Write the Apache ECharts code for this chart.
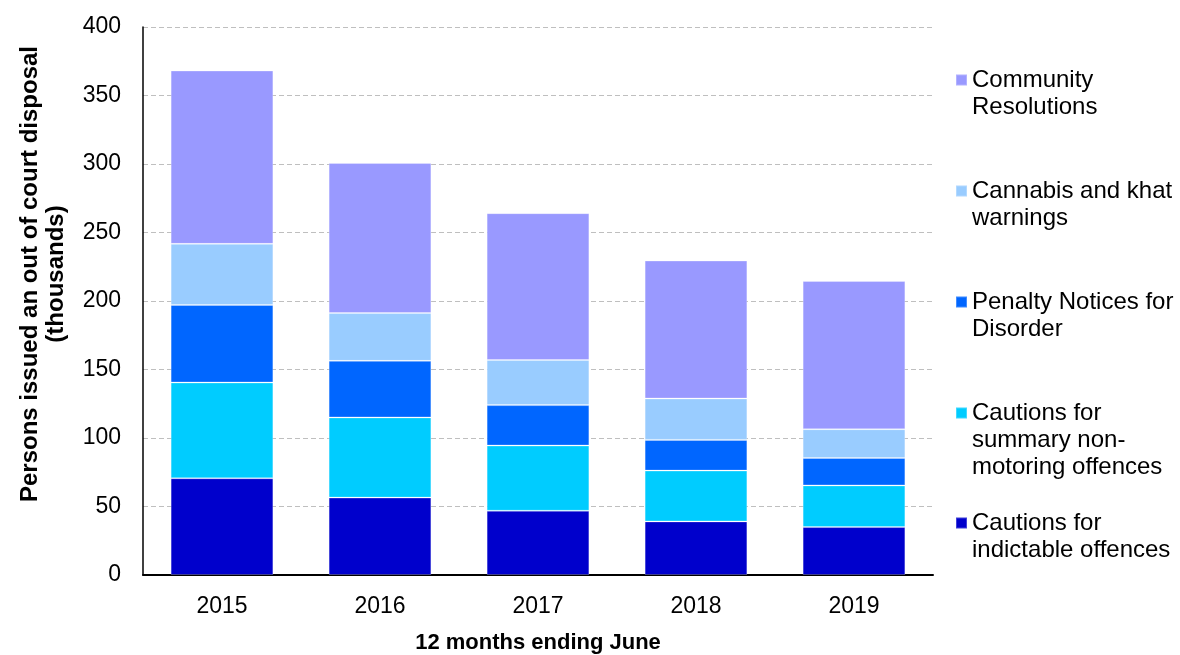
<!DOCTYPE html>
<html>
<head>
<meta charset="utf-8">
<script src="https://cdn.jsdelivr.net/npm/echarts@6/dist/echarts.min.js"></script>
<style>html,body{margin:0;padding:0;background:#fff}#c{width:1180px;height:655px}</style>
</head>
<body>
<div id="c"></div>
<script>
const categories = ['2015', '2016', '2017', '2018', '2019'];
const indictable = [70.6, 56.5, 46.9, 39.1, 35.0];
const summary = [69.9, 58.5, 47.6, 37.1, 30.4];
const pnd = [56.6, 41.3, 29.5, 22.4, 20.0];
const cannabis = [44.6, 34.9, 32.9, 30.2, 21.0];
const community = [126.5, 109.5, 107.2, 100.7, 108.2];
const yTicks = [0, 50, 100, 150, 200, 250, 300, 350, 400];

const seriesDefs = [
  {name: 'Cautions for\nindictable offences', data: indictable, color: '#0000CC', lines: 2, line1: 523},
  {name: 'Cautions for\nsummary non-\nmotoring offences', data: summary, color: '#00CCFF', lines: 3, line1: 413},
  {name: 'Penalty Notices for\nDisorder', data: pnd, color: '#0066FF', lines: 2, line1: 302},
  {name: 'Cannabis and khat\nwarnings', data: cannabis, color: '#99CCFF', lines: 2, line1: 191},
  {name: 'Community\nResolutions', data: community, color: '#9999FF', lines: 2, line1: 80}
];

const LH = 27;
const SQ = 11;
const font = 'Liberation Sans, Arial, sans-serif';

function legendFor(s) {
  // icon box tall enough that the square sits beside the first text line
  const ih = (s.lines - 1) * LH + SQ;
  const iconPath = 'path://M0,0h' + SQ + 'v' + SQ + 'h-' + SQ + 'z' +
    'M0,' + (ih - 0.05) + 'h0.05v0.05h-0.05z';
  return {
    data: [s.name],
    orient: 'vertical',
    left: 955,
    top: s.line1 - 13.5,
    padding: 0,
    itemWidth: SQ,
    itemHeight: ih,
    icon: iconPath,
    selectedMode: false,
    textStyle: {color: '#000', fontSize: 24, lineHeight: LH, fontFamily: font}
  };
}

const chart = echarts.init(document.getElementById('c'));
chart.setOption({
  animation: false,
  textStyle: {fontFamily: font},
  grid: {left: 143, top: 27, right: 247, bottom: 80, containLabel: false, outerBoundsMode: 'none'},
  xAxis: {
    type: 'category',
    data: categories,
    axisLine: {lineStyle: {color: '#000', width: 2}},
    axisTick: {show: false},
    axisLabel: {color: '#000', fontSize: 23, margin: 20, fontFamily: font},
    name: '12 months ending June',
    nameLocation: 'middle',
    nameGap: 57,
    nameTextStyle: {color: '#000', fontSize: 22, fontWeight: 'bold', fontFamily: font}
  },
  yAxis: {
    type: 'value',
    min: 0, max: 400, interval: 50,
    axisLine: {show: true, lineStyle: {color: '#000', width: 1.5}},
    axisTick: {show: false},
    axisLabel: {color: '#000', fontSize: 23, margin: 22, fontFamily: font,
      formatter: v => yTicks.includes(v) ? String(v) : ''},
    splitLine: {lineStyle: {color: '#bfbfbf', type: [5, 3], width: 1}}
  },
  legend: seriesDefs.map(legendFor),
  graphic: [{
    type: 'text',
    x: 43, y: 274,
    rotation: Math.PI / 2,
    style: {
      text: 'Persons issued an out of court disposal\n(thousands)',
      fill: '#000',
      font: 'bold 24px ' + font,
      align: 'center',
      verticalAlign: 'middle',
      lineHeight: 26
    }
  }],
  series: seriesDefs.map(s => ({
    name: s.name,
    type: 'bar',
    stack: 'total',
    data: s.data,
    barCategoryGap: '35%',
    itemStyle: {color: s.color, borderColor: 'rgba(255,255,255,0.25)', borderWidth: 1}
  }))
});
</script>
</body>
</html>
